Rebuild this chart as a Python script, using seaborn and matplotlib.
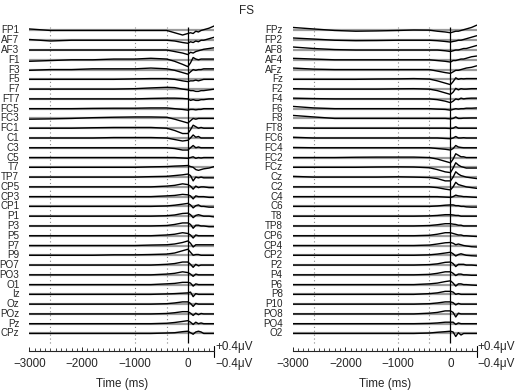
import numpy as np
import pandas as pd
import seaborn as sns
import matplotlib.pyplot as plt

times = [-3000, -2600, -2200, -1800, -1400, -1000, -700, -400, -250, -100,
         0, 50, 100, 150, 200, 250, 300, 400, 500]

left_channels = ['FP1', 'AF7', 'AF3', 'F1', 'F3', 'F5', 'F7', 'FT7', 'FC5', 'FC3',
                 'FC1', 'C1', 'C3', 'C5', 'T7', 'TP7', 'CP5', 'CP3', 'CP1', 'P1',
                 'P3', 'P5', 'P7', 'P9', 'PO7', 'PO3', 'O1', 'Iz', 'Oz', 'POz',
                 'Pz', 'CPz']

# amplitudes in uV, one row per channel
left_values = [
    [0.1, 0, 0, 0, 0, 0, 0, 0, -0.15, -0.3, -0.2, -0.15, -0.2, -0.05, -0.1, 0, 0.05, 0.15, 0.3],
    [0.05, -0.05, 0, 0, 0, 0, 0, 0, -0.05, -0.15, -0.2, -0.1, -0.15, -0.05, -0.1, 0, 0, 0.1, 0.2],
    [0, 0, 0, 0, 0, 0, 0, 0, -0.1, -0.2, -0.3, -0.15, -0.2, -0.1, -0.05, 0, 0.05, 0.1, 0.15],
    [-0.1, -0.05, 0, 0, 0.05, 0.05, 0.1, 0.05, -0.1, -0.3, -0.45, -0.2, 0.15, 0.05, 0, 0.05, 0.05, 0.05, 0.05],
    [-0.05, 0, 0, 0.05, 0.05, 0.05, 0.1, 0.05, -0.05, -0.2, -0.3, -0.15, 0, -0.05, 0, 0, 0.05, 0.05, 0.05],
    [0, 0, 0, 0, 0, 0.03, 0.05, 0.05, 0, -0.1, -0.15, -0.1, -0.1, -0.05, -0.1, -0.05, 0, 0, 0],
    [0, 0, 0, 0, 0, 0.03, 0.08, 0.12, 0.1, 0, -0.05, -0.1, -0.1, -0.15, -0.15, -0.1, -0.1, -0.05, 0],
    [0, 0, 0, 0, 0, 0, 0.03, 0.05, 0.05, 0.03, 0, -0.1, -0.05, -0.1, -0.1, -0.05, -0.05, 0, 0],
    [0, 0, 0, 0.02, 0.03, 0.03, 0.05, 0.05, 0, -0.05, -0.1, -0.05, -0.05, -0.08, -0.05, -0.05, 0, 0, 0],
    [-0.05, -0.03, 0, 0.05, 0.08, 0.1, 0.1, 0.08, -0.05, -0.2, -0.3, -0.15, 0, -0.05, 0, 0, 0, 0, 0],
    [0, 0, 0, 0.03, 0.05, 0.05, 0.05, 0, -0.15, -0.35, -0.35, -0.1, 0.2, 0.1, 0, 0.05, 0, 0, 0],
    [0, 0, 0, 0, 0.03, 0.03, 0.03, 0, -0.1, -0.2, -0.15, 0, 0.2, 0.05, 0.1, 0, 0, 0, 0],
    [0, 0, 0, 0, 0, 0, 0, 0, -0.05, -0.15, -0.15, 0, 0.15, 0, 0.05, 0, 0, 0, 0],
    [0, 0, 0, 0, 0, 0, 0, 0, 0, -0.03, -0.05, 0, 0.05, -0.05, 0, -0.03, 0, 0, 0],
    [0, 0, 0, 0, 0, 0, 0.03, 0.05, 0.08, 0.1, 0.12, 0.05, 0, -0.15, -0.2, -0.15, -0.1, -0.05, 0.05],
    [0, 0, 0, 0, 0, 0, 0.03, 0.05, 0.1, 0.15, 0.2, 0.1, -0.25, 0, -0.05, 0, -0.05, -0.05, -0.05],
    [0, 0, 0, 0, 0, 0, 0, 0.05, 0.1, 0.2, 0.15, 0.05, -0.15, 0.05, -0.05, 0, 0, -0.05, -0.05],
    [0, 0, 0, 0, 0, 0, 0, 0.05, 0.08, 0.15, 0.12, 0.05, -0.15, 0.05, 0, 0, 0, -0.05, -0.05],
    [0, 0, 0, 0, 0, 0, 0, 0.03, 0.08, 0.15, 0.2, 0.1, -0.1, 0.05, 0.1, 0, 0, -0.05, -0.05],
    [0, 0, 0, 0, 0, 0, 0, 0.03, 0.08, 0.18, 0.2, 0.1, -0.1, 0.05, 0.1, 0.05, 0, 0, -0.05],
    [0, 0, 0, 0, 0, 0, 0, 0.03, 0.1, 0.2, 0.2, 0.1, -0.15, 0.05, 0.05, 0, 0, -0.05, -0.05],
    [0, 0, 0, 0, 0, 0, 0, 0.05, 0.1, 0.2, 0.15, 0.05, -0.15, 0.05, 0, 0, 0, 0, 0],
    [0, 0, 0, 0, 0, 0, 0.03, 0.05, 0.1, 0.2, 0.3, 0.15, -0.1, 0.05, 0.05, 0.05, 0.05, 0.05, 0.05],
    [0, 0, 0, 0, 0.03, 0.03, 0.05, 0.08, 0.15, 0.3, 0.4, 0.2, 0, 0.05, 0.05, 0, 0, 0, 0],
    [0, 0, 0, 0, 0, 0, 0, 0.05, 0.1, 0.2, 0.2, 0.05, -0.15, 0.05, -0.05, 0, 0, 0, 0],
    [0, 0, 0, 0, 0, 0, 0, 0.05, 0.1, 0.2, 0.15, 0.05, -0.1, 0.05, 0, 0, 0, 0, 0],
    [0, 0, 0, 0, 0, 0, 0, 0.05, 0.08, 0.15, 0.15, 0.1, -0.1, 0.05, 0, 0, 0, 0, 0],
    [0, 0, 0, 0, 0, 0, 0, 0.03, 0.05, 0.08, 0.1, 0.15, -0.15, 0.05, 0, 0, 0, 0, 0],
    [0, 0, 0, 0, 0, 0, 0, 0.03, 0.08, 0.15, 0.15, 0.05, -0.15, 0.05, 0, 0, 0, 0, 0],
    [0, 0, 0, 0, 0, 0, 0, 0.03, 0.08, 0.15, 0.15, 0.05, -0.1, 0.05, -0.05, 0.03, 0, 0, 0],
    [0, 0, 0, 0, 0, 0, 0, 0.03, 0.08, 0.15, 0.2, 0.1, -0.05, 0.1, 0, 0.05, 0, 0, 0],
    [0, 0, 0, 0, 0, 0, 0, 0.03, 0.05, 0.12, 0.15, 0.05, -0.05, 0.1, 0.15, 0.1, 0, 0, 0],
]

right_channels = ['FPz', 'FP2', 'AF8', 'AF4', 'AFz', 'Fz', 'F2', 'F4', 'F6', 'F8',
                  'FT8', 'FC6', 'FC4', 'FC2', 'FCz', 'Cz', 'C2', 'C4', 'C6', 'T8',
                  'TP8', 'CP6', 'CP4', 'CP2', 'P2', 'P4', 'P6', 'P8', 'P10', 'PO8',
                  'PO4', 'O2']

right_values = [
    [0.2, 0.1, 0, -0.05, -0.03, 0, 0.03, 0.02, -0.05, -0.1, -0.15, -0.1, -0.05, -0.05, 0, 0.05, 0.1, 0.2, 0.35],
    [0.15, 0.08, 0, -0.03, -0.02, 0, 0, 0, -0.03, -0.08, -0.12, -0.08, -0.05, 0, 0, 0.05, 0.1, 0.2, 0.3],
    [0.2, 0.1, 0.03, 0, 0, 0, 0, 0, 0, -0.05, -0.1, -0.05, 0, 0, 0.05, 0.1, 0.1, 0.2, 0.3],
    [0.1, 0.05, 0, 0, 0, 0, 0, 0, -0.05, -0.1, -0.15, -0.05, -0.05, 0, 0.05, 0.05, 0.1, 0.2, 0.25],
    [0.1, 0.03, 0, 0, 0, 0, 0, 0, -0.1, -0.2, -0.25, -0.15, -0.05, -0.05, 0, 0.05, 0.1, 0.15, 0.25],
    [0, 0, 0, 0, 0.02, 0.03, 0.05, 0.02, -0.1, -0.25, -0.35, -0.15, 0.1, 0, 0.05, 0.03, 0.05, 0.05, 0.05],
    [0.03, 0, 0, 0, 0, 0.02, 0.03, 0, -0.1, -0.25, -0.35, -0.2, 0.05, -0.05, 0.03, 0, 0, 0.03, 0.03],
    [0.05, 0.02, 0, 0, 0, 0, 0, 0, -0.05, -0.15, -0.25, -0.15, 0, -0.05, 0.05, 0, 0.03, 0.05, 0.05],
    [0.15, 0.05, 0, 0, 0, 0, 0, 0, -0.03, -0.05, -0.1, -0.05, 0, -0.03, 0, 0, 0.03, 0.03, 0.05],
    [0.2, 0.1, 0, 0, 0, 0, 0, 0, 0, 0, -0.03, 0, 0.1, 0, 0, 0.02, 0.02, 0.03, 0.03],
    [0.02, 0, 0, 0, 0, 0, 0, 0, 0, 0, -0.02, 0, 0.1, 0, 0, 0, 0, 0, 0],
    [0.05, 0, 0, 0, 0, 0, 0, 0, 0, -0.03, -0.05, 0, 0.1, 0, 0, 0.02, 0, 0, 0],
    [0.02, 0, 0, 0, 0, 0, 0, 0, -0.05, -0.1, -0.15, -0.05, 0.15, 0.05, 0.02, 0, 0, 0, 0],
    [0, 0, 0, 0.02, 0.03, 0.03, 0.03, 0, -0.1, -0.25, -0.35, -0.1, 0.25, 0.15, 0.05, 0.05, 0, 0, 0],
    [0, 0, 0, 0, 0.02, 0.03, 0.02, -0.03, -0.15, -0.3, -0.35, -0.05, 0.3, 0.15, 0.05, 0, -0.05, -0.05, -0.05],
    [0.05, 0, 0, 0, 0, 0.02, 0, -0.03, -0.1, -0.25, -0.25, 0, 0.35, 0.2, 0.1, 0.05, 0, -0.05, -0.1],
    [0, 0, 0, 0, 0, 0, 0, 0, -0.05, -0.15, -0.2, 0, 0.3, 0.15, 0.1, 0.05, 0, -0.05, -0.1],
    [0, 0, 0, 0, 0, 0, 0, 0, 0, -0.03, -0.05, 0, 0.1, 0.05, 0.03, 0, 0, -0.03, -0.05],
    [0, 0, 0, 0, 0, 0, 0, 0, 0.03, 0.08, 0.1, 0.1, 0.05, 0.05, 0, 0, -0.03, -0.05, -0.05],
    [0, 0, 0, 0, 0, 0, 0, 0.02, 0.05, 0.1, 0.1, 0.08, 0.05, 0.05, 0, 0, 0, 0, 0],
    [0, 0, 0, 0, 0, 0, 0, 0.03, 0.08, 0.15, 0.15, 0.12, 0.1, 0.05, 0.05, 0, 0, 0, 0],
    [0, 0, 0, 0, 0, 0, 0, 0.03, 0.1, 0.2, 0.2, 0.15, 0.1, 0.05, 0.05, 0, 0, -0.03, -0.05],
    [0, 0, 0, 0, 0, 0, 0, 0.03, 0.1, 0.18, 0.2, 0.15, 0.05, 0.1, 0.05, 0, -0.03, -0.08, -0.1],
    [0, 0, 0, 0, 0, 0, 0, 0.03, 0.08, 0.15, 0.2, 0.1, -0.05, 0.05, 0.1, 0.05, 0, -0.03, -0.05],
    [0, 0, 0, 0, 0, 0, 0, 0.03, 0.08, 0.18, 0.2, 0.1, -0.1, 0.05, 0.05, 0.05, 0, 0, -0.03],
    [0, 0, 0, 0, 0, 0, 0, 0.03, 0.1, 0.2, 0.2, 0.1, -0.05, 0.05, 0.05, 0, 0, -0.03, -0.03],
    [0, 0, 0, 0, 0, 0, 0, 0.05, 0.1, 0.2, 0.25, 0.1, -0.1, 0.05, 0.05, 0, 0, -0.03, -0.05],
    [0, 0, 0, 0, 0, 0, 0, 0.05, 0.1, 0.2, 0.2, 0.15, 0, 0.05, 0, 0, 0, 0, 0],
    [0, 0, 0, 0, 0, 0, 0, 0.03, 0.08, 0.15, 0.15, 0.1, -0.05, 0.05, 0, 0, 0, 0, 0],
    [0, 0, 0, 0, 0, 0, 0, 0.05, 0.1, 0.2, 0.2, 0.1, -0.2, 0.05, 0, 0, 0, 0, 0],
    [0, 0, 0, 0, 0, 0, 0, 0.02, 0.05, 0.1, 0.1, 0.1, -0.05, 0.05, 0, 0, 0, 0, 0],
    [0, 0, 0, 0, 0, 0, 0, 0.03, 0.08, 0.12, 0.15, 0.1, -0.2, 0.05, -0.1, 0, 0, 0, 0],
]

marker_times = [-2600, -1000, -400]   # dotted reference lines
scale_uv = 0.4

sns.set_style("white")
plt.rcParams['font.family'] = ['Liberation Sans', 'DejaVu Sans']

gain = 1.55          # row spacing units per uV
ybot = -32.76

fig = plt.figure(figsize=(5.15, 3.92), dpi=100)
ax_left = fig.add_axes([0.0569, 0.1054, 0.3592, 0.8418])
ax_right = fig.add_axes([0.5683, 0.1054, 0.3575, 0.8418])


def draw_panel(ax, channels, values):
    rows = []
    for i, (ch, vals) in enumerate(zip(channels, values)):
        for t, v in zip(times, vals):
            rows.append({'channel': ch, 'time': t, 'y': -i + gain * v})
    df = pd.DataFrame(rows)
    offsets = -np.arange(len(channels))

    ax.hlines(offsets, -3000, 500, color='#9c9c9c', lw=1.6, zorder=1)
    sns.lineplot(data=df, x='time', y='y', units='channel', estimator=None,
                 color='black', lw=1.0, sort=False, legend=False, ax=ax, zorder=3)

    top, bottom = 0.33, -len(channels) + 0.0
    ax.vlines(0, bottom, top, color='black', lw=0.9, zorder=4)
    ax.vlines(marker_times, bottom, top, color='#888888', lw=0.8,
              linestyles=(0, (1, 2.5)), zorder=2)

    for i, ch in enumerate(channels):
        ax.text(-3190, -i, ch, ha='right', va='center', fontsize=7.1,
                family=['Liberation Sans Narrow', 'Liberation Sans'])

    ax.set_xlim(-3000, 500)
    ax.set_ylim(ybot, 1.0)
    ax.set_yticks([])
    ax.set_ylabel('')
    for s in ['top', 'right', 'left']:
        ax.spines[s].set_visible(False)
    ax.spines['bottom'].set_linewidth(0.8)
    ax.spines['bottom'].set_bounds(-3000, 500)
    ax.set_xticks([-3000, -2000, -1000, 0])
    ax.set_xticks(np.arange(-3000, 501, 100), minor=True)
    ax.tick_params(axis='x', which='major', direction='in', length=3, width=0.7,
                   labelsize=8.4, pad=5, bottom=True)
    ax.tick_params(axis='x', which='minor', direction='in', length=2, width=0.6,
                   bottom=True)
    ax.set_xlabel('Time (ms)', fontsize=8.4, labelpad=6)

    # amplitude scale bar at the right end of the time axis
    ax.plot([500, 500], [ybot - 0.62, ybot + 0.47], color='black', lw=0.8,
            clip_on=False)
    ax.annotate(f'+{scale_uv}\u03bcV', xy=(500, ybot), xycoords='data',
                xytext=(1, 4), textcoords='offset pixels', ha='left',
                va='center', fontsize=8.4, annotation_clip=False)
    ax.annotate(f'\u2212{scale_uv}\u03bcV', xy=(500, ybot), xycoords='data',
                xytext=(1, -13.5), textcoords='offset pixels', ha='left',
                va='center', fontsize=8.4, annotation_clip=False)


draw_panel(ax_left, left_channels, left_values)
draw_panel(ax_right, right_channels, right_values)

fig.text(247 / 515, 1 - 11 / 392, 'FS', ha='center', va='center', fontsize=8.5)

fig.savefig('out.png', dpi=100)
